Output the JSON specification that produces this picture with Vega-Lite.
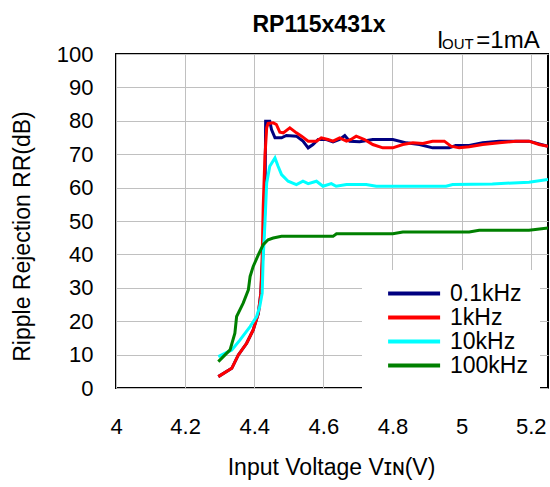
{
  "$schema": "https://vega.github.io/schema/vega-lite/v6.json",
  "width": 432,
  "height": 334,
  "autosize": {"type": "none"},
  "padding": {"left": 116, "top": 54, "right": 2, "bottom": 99},
  "background": "white",
  "config": {
    "font": "Liberation Sans",
    "view": {"stroke": "black", "strokeWidth": 2},
    "axis": {"grid": true, "gridColor": "#c0c0c0", "gridWidth": 1, "gridOpacity": 1, "domain": false, "ticks": false, "labelColor": "black", "titleColor": "black", "labelFont": "Liberation Sans", "titleFont": "Liberation Sans", "titleFontWeight": "normal", "labelOverlap": false}
  },
  "datasets": {
    "curves": [
      {"freq": "0.1kHz", "vin": 4.296, "rr": 3.4}, {"freq": "0.1kHz", "vin": 4.335, "rr": 5.9}, {"freq": "0.1kHz", "vin": 4.354, "rr": 9.9}, {"freq": "0.1kHz", "vin": 4.378, "rr": 13.4}, {"freq": "0.1kHz", "vin": 4.397, "rr": 17.4}, {"freq": "0.1kHz", "vin": 4.412, "rr": 22.4}, {"freq": "0.1kHz", "vin": 4.419, "rr": 28.4}, {"freq": "0.1kHz", "vin": 4.425, "rr": 40}, {"freq": "0.1kHz", "vin": 4.431, "rr": 54.4}, {"freq": "0.1kHz", "vin": 4.433, "rr": 79.9}, {"freq": "0.1kHz", "vin": 4.445, "rr": 79.9}, {"freq": "0.1kHz", "vin": 4.45, "rr": 77.4}, {"freq": "0.1kHz", "vin": 4.46, "rr": 74.9}, {"freq": "0.1kHz", "vin": 4.479, "rr": 74.9}, {"freq": "0.1kHz", "vin": 4.493, "rr": 75.6}, {"freq": "0.1kHz", "vin": 4.522, "rr": 75.4}, {"freq": "0.1kHz", "vin": 4.541, "rr": 73.9}, {"freq": "0.1kHz", "vin": 4.556, "rr": 71.9}, {"freq": "0.1kHz", "vin": 4.57, "rr": 72.9}, {"freq": "0.1kHz", "vin": 4.585, "rr": 74.4}, {"freq": "0.1kHz", "vin": 4.609, "rr": 74.4}, {"freq": "0.1kHz", "vin": 4.628, "rr": 73.7}, {"freq": "0.1kHz", "vin": 4.647, "rr": 74.4}, {"freq": "0.1kHz", "vin": 4.662, "rr": 75.6}, {"freq": "0.1kHz", "vin": 4.676, "rr": 73.9}, {"freq": "0.1kHz", "vin": 4.705, "rr": 73.7}, {"freq": "0.1kHz", "vin": 4.743, "rr": 74.4}, {"freq": "0.1kHz", "vin": 4.801, "rr": 74.4}, {"freq": "0.1kHz", "vin": 4.84, "rr": 73.4}, {"freq": "0.1kHz", "vin": 4.878, "rr": 72.9}, {"freq": "0.1kHz", "vin": 4.916, "rr": 71.9}, {"freq": "0.1kHz", "vin": 4.964, "rr": 71.9}, {"freq": "0.1kHz", "vin": 4.983, "rr": 72.6}, {"freq": "0.1kHz", "vin": 5.022, "rr": 72.6}, {"freq": "0.1kHz", "vin": 5.061, "rr": 73.4}, {"freq": "0.1kHz", "vin": 5.109, "rr": 73.9}, {"freq": "0.1kHz", "vin": 5.195, "rr": 73.9}, {"freq": "0.1kHz", "vin": 5.25, "rr": 72.4},
      {"freq": "1kHz", "vin": 4.296, "rr": 3.4}, {"freq": "1kHz", "vin": 4.335, "rr": 5.9}, {"freq": "1kHz", "vin": 4.354, "rr": 9.9}, {"freq": "1kHz", "vin": 4.378, "rr": 13.4}, {"freq": "1kHz", "vin": 4.397, "rr": 17.4}, {"freq": "1kHz", "vin": 4.412, "rr": 22.4}, {"freq": "1kHz", "vin": 4.419, "rr": 28.4}, {"freq": "1kHz", "vin": 4.423, "rr": 39.4}, {"freq": "1kHz", "vin": 4.426, "rr": 54.4}, {"freq": "1kHz", "vin": 4.431, "rr": 69.4}, {"freq": "1kHz", "vin": 4.436, "rr": 77.9}, {"freq": "1kHz", "vin": 4.44, "rr": 79.2}, {"freq": "1kHz", "vin": 4.455, "rr": 79.4}, {"freq": "1kHz", "vin": 4.464, "rr": 78.9}, {"freq": "1kHz", "vin": 4.474, "rr": 76.6}, {"freq": "1kHz", "vin": 4.484, "rr": 76.4}, {"freq": "1kHz", "vin": 4.503, "rr": 77.9}, {"freq": "1kHz", "vin": 4.522, "rr": 76.4}, {"freq": "1kHz", "vin": 4.537, "rr": 75.4}, {"freq": "1kHz", "vin": 4.556, "rr": 73.9}, {"freq": "1kHz", "vin": 4.58, "rr": 73.9}, {"freq": "1kHz", "vin": 4.594, "rr": 74.9}, {"freq": "1kHz", "vin": 4.613, "rr": 74.4}, {"freq": "1kHz", "vin": 4.628, "rr": 73.9}, {"freq": "1kHz", "vin": 4.647, "rr": 74.9}, {"freq": "1kHz", "vin": 4.667, "rr": 73.9}, {"freq": "1kHz", "vin": 4.68, "rr": 74.4}, {"freq": "1kHz", "vin": 4.695, "rr": 75.4}, {"freq": "1kHz", "vin": 4.719, "rr": 74.4}, {"freq": "1kHz", "vin": 4.743, "rr": 72.9}, {"freq": "1kHz", "vin": 4.772, "rr": 71.9}, {"freq": "1kHz", "vin": 4.801, "rr": 71.9}, {"freq": "1kHz", "vin": 4.83, "rr": 72.9}, {"freq": "1kHz", "vin": 4.859, "rr": 73.4}, {"freq": "1kHz", "vin": 4.888, "rr": 73.2}, {"freq": "1kHz", "vin": 4.916, "rr": 73.9}, {"freq": "1kHz", "vin": 4.95, "rr": 73.9}, {"freq": "1kHz", "vin": 4.969, "rr": 72.4}, {"freq": "1kHz", "vin": 4.993, "rr": 71.9}, {"freq": "1kHz", "vin": 5.022, "rr": 72.2}, {"freq": "1kHz", "vin": 5.061, "rr": 72.9}, {"freq": "1kHz", "vin": 5.109, "rr": 73.4}, {"freq": "1kHz", "vin": 5.157, "rr": 73.9}, {"freq": "1kHz", "vin": 5.195, "rr": 73.9}, {"freq": "1kHz", "vin": 5.224, "rr": 72.9}, {"freq": "1kHz", "vin": 5.25, "rr": 72.4},
      {"freq": "10kHz", "vin": 4.296, "rr": 9.4}, {"freq": "10kHz", "vin": 4.335, "rr": 11.4}, {"freq": "10kHz", "vin": 4.359, "rr": 14.4}, {"freq": "10kHz", "vin": 4.388, "rr": 18.4}, {"freq": "10kHz", "vin": 4.407, "rr": 21.4}, {"freq": "10kHz", "vin": 4.416, "rr": 24.4}, {"freq": "10kHz", "vin": 4.423, "rr": 28.4}, {"freq": "10kHz", "vin": 4.426, "rr": 39.4}, {"freq": "10kHz", "vin": 4.431, "rr": 49.4}, {"freq": "10kHz", "vin": 4.436, "rr": 61.4}, {"freq": "10kHz", "vin": 4.445, "rr": 66.4}, {"freq": "10kHz", "vin": 4.46, "rr": 68.9}, {"freq": "10kHz", "vin": 4.469, "rr": 66.4}, {"freq": "10kHz", "vin": 4.479, "rr": 63.9}, {"freq": "10kHz", "vin": 4.498, "rr": 61.9}, {"freq": "10kHz", "vin": 4.522, "rr": 60.9}, {"freq": "10kHz", "vin": 4.541, "rr": 61.9}, {"freq": "10kHz", "vin": 4.556, "rr": 61.2}, {"freq": "10kHz", "vin": 4.58, "rr": 61.9}, {"freq": "10kHz", "vin": 4.599, "rr": 60.4}, {"freq": "10kHz", "vin": 4.623, "rr": 61.2}, {"freq": "10kHz", "vin": 4.637, "rr": 60.4}, {"freq": "10kHz", "vin": 4.667, "rr": 60.9}, {"freq": "10kHz", "vin": 4.724, "rr": 60.9}, {"freq": "10kHz", "vin": 4.753, "rr": 60.4}, {"freq": "10kHz", "vin": 4.955, "rr": 60.4}, {"freq": "10kHz", "vin": 4.974, "rr": 60.9}, {"freq": "10kHz", "vin": 5.089, "rr": 61.1}, {"freq": "10kHz", "vin": 5.195, "rr": 61.6}, {"freq": "10kHz", "vin": 5.25, "rr": 62.4},
      {"freq": "100kHz", "vin": 4.296, "rr": 7.9}, {"freq": "100kHz", "vin": 4.33, "rr": 11.4}, {"freq": "100kHz", "vin": 4.344, "rr": 16.4}, {"freq": "100kHz", "vin": 4.349, "rr": 21.4}, {"freq": "100kHz", "vin": 4.368, "rr": 25.4}, {"freq": "100kHz", "vin": 4.383, "rr": 29.4}, {"freq": "100kHz", "vin": 4.388, "rr": 33.4}, {"freq": "100kHz", "vin": 4.397, "rr": 36.4}, {"freq": "100kHz", "vin": 4.412, "rr": 39.9}, {"freq": "100kHz", "vin": 4.426, "rr": 42.9}, {"freq": "100kHz", "vin": 4.44, "rr": 44.4}, {"freq": "100kHz", "vin": 4.455, "rr": 44.9}, {"freq": "100kHz", "vin": 4.479, "rr": 45.4}, {"freq": "100kHz", "vin": 4.628, "rr": 45.4}, {"freq": "100kHz", "vin": 4.638, "rr": 46.2}, {"freq": "100kHz", "vin": 4.801, "rr": 46.2}, {"freq": "100kHz", "vin": 4.83, "rr": 46.7}, {"freq": "100kHz", "vin": 5.022, "rr": 46.7}, {"freq": "100kHz", "vin": 5.051, "rr": 47.2}, {"freq": "100kHz", "vin": 5.195, "rr": 47.2}, {"freq": "100kHz", "vin": 5.25, "rr": 47.9}
    ]
  },
  "layer": [
    {
      "data": {"name": "curves"},
      "mark": {"type": "line", "strokeWidth": 3, "clip": true},
      "encoding": {
        "x": {"field": "vin", "type": "quantitative", "scale": {"domain": [4, 5.25], "nice": false, "zero": false},
          "axis": {"values": [4, 4.2, 4.4, 4.6, 4.8, 5, 5.2], "tickCount": 20, "format": ".1~f", "labelFontSize": 22, "labelBaseline": "alphabetic", "labelPadding": 45, "labelFlush": false, "title": "Input Voltage Vɪɴ(V)", "titleFontSize": 23, "titleX": 215, "titleY": 86, "titleBaseline": "alphabetic", "titleAnchor": null}},
        "y": {"field": "rr", "type": "quantitative", "scale": {"domain": [0, 100], "nice": false},
          "axis": {"values": [0, 10, 20, 30, 40, 50, 60, 70, 80, 90, 100], "tickCount": 20, "labelFontSize": 22, "labelPadding": 23, "labelFlush": false, "title": "Ripple Rejection RR(dB)", "titleFontSize": 23, "titleX": -94, "titleY": 182, "titleAngle": -90, "titleBaseline": "middle", "titleAlign": "center"}},
        "color": {"field": "freq", "type": "nominal", "sort": ["0.1kHz", "1kHz", "10kHz", "100kHz"],
          "scale": {"domain": ["0.1kHz", "1kHz", "10kHz", "100kHz"], "range": ["#000080", "#ff0000", "#00ffff", "#008000"]},
          "legend": {"title": null, "orient": "none", "legendX": 246, "legendY": 216, "fillColor": "white", "padding": 12, "symbolType": "M0.4,0H8.4", "symbolSize": 169, "symbolStrokeWidth": 4, "labelFontSize": 23, "labelColor": "black", "labelOffset": 53, "rowPadding": 0, "labelExpr": "datum.label + '  '"}}
      }
    },
    {
      "data": {"values": [{"t": "RP115x431x"}]},
      "mark": {"type": "text", "baseline": "alphabetic", "align": "center", "fontSize": 23, "fontWeight": "bold", "dx": -13, "dy": -22, "color": "black"},
      "encoding": {"x": {"datum": 4.625, "type": "quantitative"}, "y": {"datum": 100, "type": "quantitative"}, "text": {"field": "t"}}
    },
    {
      "data": {"values": [{"t": "I"}]},
      "mark": {"type": "text", "baseline": "alphabetic", "align": "left", "fontSize": 23, "dx": -111, "dy": -6, "color": "black"},
      "encoding": {"x": {"datum": 5.25, "type": "quantitative"}, "y": {"datum": 100, "type": "quantitative"}, "text": {"field": "t"}}
    },
    {
      "data": {"values": [{"t": "OUT"}]},
      "mark": {"type": "text", "baseline": "alphabetic", "align": "left", "fontSize": 15, "dx": -106, "dy": -5, "color": "black"},
      "encoding": {"x": {"datum": 5.25, "type": "quantitative"}, "y": {"datum": 100, "type": "quantitative"}, "text": {"field": "t"}}
    },
    {
      "data": {"values": [{"t": "=1mA"}]},
      "mark": {"type": "text", "baseline": "alphabetic", "align": "center", "fontSize": 24, "dx": -40, "dy": -6, "color": "black"},
      "encoding": {"x": {"datum": 5.25, "type": "quantitative"}, "y": {"datum": 100, "type": "quantitative"}, "text": {"field": "t"}}
    }
  ]
}
